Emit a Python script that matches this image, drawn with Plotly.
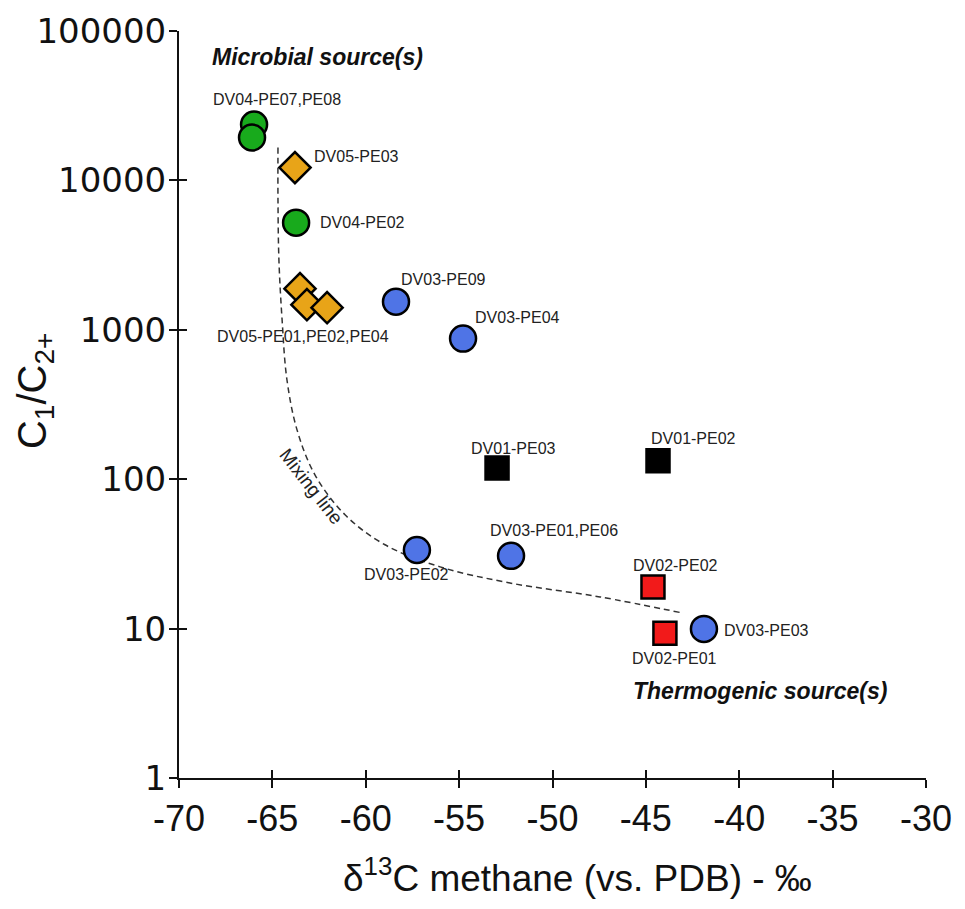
import math
import plotly.graph_objects as go

# ---------------- data ----------------
green_x = [-65.98, -66.09, -63.73]
green_y = [23650, 19360, 5215]

orange_x = [-63.79, -63.52, -63.15, -62.07]
orange_y = [12180, 1884, 1472, 1406]

blue_x = [-58.38, -54.79, -57.26, -52.22, -41.89]
blue_y = [1542, 873, 33.6, 30.7, 9.95]

black_x = [-52.97, -44.35]
black_y = [119, 133]

red_x = [-44.62, -43.98]
red_y = [19.0, 9.3]

mix_x = [-64.70, -64.70, -64.65, -64.48, -64.22, -63.68, -62.72, -61.11,
         -58.97, -56.02, -52.28, -47.46, -43.01]
mix_y = [16600, 7430, 2945, 1169, 463, 214, 107, 57.8, 36.4, 25.9, 20.2,
         16.3, 12.7]

x_ticks = [-70, -65, -60, -55, -50, -45, -40, -35, -30]
y_ticks = [1, 10, 100, 1000, 10000, 100000]

# label: (text, series x, series y, xanchor, xshift, yshift)
labels = [
    ("DV04-PE07,PE08", green_x[0], green_y[0], "center", 23, 25),
    ("DV04-PE02", green_x[2], green_y[2], "left", 22, 0),
    ("DV05-PE03", orange_x[0], orange_y[0], "left", 17, 11),
    ("DV05-PE01,PE02,PE04", orange_x[2], orange_y[2], "center", -4, -32),
    ("DV03-PE09", blue_x[0], blue_y[0], "left", 3, 22),
    ("DV03-PE04", blue_x[1], blue_y[1], "left", 10, 21),
    ("DV03-PE02", blue_x[2], blue_y[2], "center", -10, -25),
    ("DV03-PE01,PE06", blue_x[3], blue_y[3], "center", 43, 25),
    ("DV03-PE03", blue_x[4], blue_y[4], "left", 18, -2),
    ("DV01-PE03", black_x[0], black_y[0], "center", 16, 19),
    ("DV01-PE02", black_x[1], black_y[1], "center", 35, 22),
    ("DV02-PE02", red_x[0], red_y[0], "center", 23, 21),
    ("DV02-PE01", red_x[1], red_y[1], "center", 10, -25),
]

# ---------------- figure ----------------
fig = go.Figure()

fig.add_trace(go.Scatter(x=mix_x, y=mix_y, mode="lines",
                         line=dict(color="#333333", width=1.5, dash="6px,4px", shape="spline"),
                         hoverinfo="skip", showlegend=False))

def add_markers(xs, ys, color, symbol, size):
    fig.add_trace(go.Scatter(x=xs, y=ys, mode="markers", showlegend=False,
                             marker=dict(color=color, symbol=symbol, size=size,
                                         line=dict(color="black", width=2.5))))

add_markers(green_x, green_y, "#18aa1c", "circle", 26)
add_markers(orange_x, orange_y, "#e8a418", "diamond", 24)
add_markers(blue_x, blue_y, "#4f74e6", "circle", 26)
add_markers(black_x, black_y, "black", "square", 23)
add_markers(red_x, red_y, "#f21a1a", "square", 23)

# dummy trace for the overlay axes (inside half of the crossing ticks)
fig.add_trace(go.Scatter(x=[None], y=[None], xaxis="x2", yaxis="y2",
                         showlegend=False, hoverinfo="skip"))

ann = []
for text, lx, ly, xa, dx, dy in labels:
    ann.append(dict(text=text, x=lx, y=math.log10(ly), xref="x", yref="y",
                    xanchor=xa, yanchor="middle", xshift=dx, yshift=dy,
                    showarrow=False,
                    font=dict(family="Liberation Sans", size=16, color="#222222")))

ann.append(dict(text="<b><i>Microbial source(s)</i></b>", x=-62.61, y=math.log10(67400),
                xref="x", yref="y", showarrow=False,
                font=dict(family="Liberation Sans", size=23, color="#111111")))
ann.append(dict(text="<b><i>Thermogenic source(s)</i></b>", x=-38.89, y=math.log10(3.83),
                xref="x", yref="y", showarrow=False,
                font=dict(family="Liberation Sans", size=23, color="#111111")))
ann.append(dict(text="Mixing line", x=-62.93, y=math.log10(89), xref="x", yref="y",
                showarrow=False, textangle=52,
                font=dict(family="Liberation Sans", size=19, color="#222222")))
ann.append(dict(text="C<sub>1</sub>/C<sub>2+</sub>", x=0, y=0.518, xref="paper", yref="paper",
                xanchor="center", yanchor="middle", xshift=-144, showarrow=False,
                textangle=-90,
                font=dict(family="Liberation Sans", size=40, color="#111111")))
ann.append(dict(text="δ<sup>13</sup>C methane (vs. PDB) - ‰", x=0.534, y=0, xref="paper",
                yref="paper", xanchor="center", yanchor="middle", yshift=-97,
                showarrow=False,
                font=dict(family="Liberation Sans", size=37, color="#111111")))

fig.update_layout(
    width=957, height=901,
    margin=dict(l=171, r=39, t=23, b=131, autoexpand=False),
    paper_bgcolor="white", plot_bgcolor="white",
    showlegend=False,
    annotations=ann,
    xaxis=dict(range=[-70, -30], tickvals=x_ticks, ticktext=[str(v) for v in x_ticks],
               automargin=False,
               showgrid=False, zeroline=False, showline=True, linecolor="#111111",
               linewidth=2, ticks="outside", ticklen=8, tickwidth=2, tickcolor="#111111",
               ticklabelstandoff=0,
               tickfont=dict(family="Liberation Sans", size=36, color="#111111")),
    yaxis=dict(type="log", range=[0, 5], tickvals=y_ticks, ticktext=[str(v) for v in y_ticks],
               automargin=False,
               showgrid=False, zeroline=False, showline=True, linecolor="#111111",
               linewidth=2, ticks="outside", ticklen=8, tickwidth=2, tickcolor="#111111",
               ticklabelstandoff=-4,
               tickfont=dict(family="DejaVu Sans", size=34, color="#111111")),
    xaxis2=dict(range=[-70, -30], tickvals=x_ticks, overlaying="x", side="bottom",
                anchor="y2", showticklabels=False, showgrid=False, zeroline=False,
                automargin=False,
                showline=False, ticks="inside", ticklen=8, tickwidth=2, tickcolor="#111111"),
    yaxis2=dict(type="log", range=[0, 5], tickvals=y_ticks, overlaying="y", side="left",
                anchor="x2", showticklabels=False, showgrid=False, zeroline=False,
                automargin=False,
                showline=False, ticks="inside", ticklen=8, tickwidth=2, tickcolor="#111111"),
)

fig.write_html("out.html")
